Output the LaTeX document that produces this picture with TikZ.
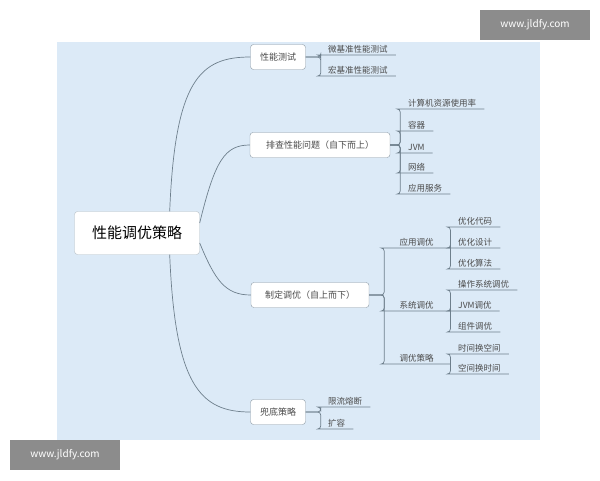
\documentclass[tikz,border=0pt]{standalone}
\usepackage{fontspec}
\setmainfont{Noto Sans CJK SC}
\usetikzlibrary{positioning}
\definecolor{bgblue}{HTML}{DCEAF7}
\definecolor{ln}{HTML}{6E7F8C}
\definecolor{tx}{HTML}{4A4A4A}
\tikzset{
    x=1pt,y=-1pt,
    root/.style={draw=ln!50,fill=white,rounded corners=3pt,minimum width=125pt,minimum height=43pt,font=\fontsize{15}{15}\selectfont,text=black},
    topic/.style={draw=ln!80,fill=white,rounded corners=3pt,minimum height=25pt,font=\fontsize{9}{9}\selectfont,text=tx},
    leaf/.style={anchor=south west,inner xsep=8pt,inner ysep=2pt,font=\fontsize{8.5}{8.5}\selectfont,text=tx},
    br/.style={draw=ln,line width=0.7pt,rounded corners=3pt},
    watermark/.style={fill=black!45,minimum width=110pt,minimum height=30pt,text=white,font=\fontsize{10}{10}\selectfont}
}
\begin{document}
\begin{tikzpicture}
	\useasboundingbox (0,0) rectangle (600,480);
	\fill[bgblue] (57,42) rectangle (540,440);

	\node[root] (r) at (137,233) {性能调优策略};
	\node[topic,minimum width=55pt] (t1) at (278,57) {性能测试};
	\node[topic,minimum width=140pt] (t2) at (320,145) {排查性能问题（自下而上）};
	\node[topic,minimum width=118pt] (t3) at (310,295) {制定调优（自上而下）};
	\node[topic,minimum width=55pt] (t4) at (278,412) {兜底策略};

	\draw[br,rounded corners=0pt] (r.north east) ++(-30,0) coordinate (ra) .. controls (175,80) and (200,57) .. (t1.west);
	\draw[br,rounded corners=0pt] (r.east) ++(0,-10) .. controls (215,160) and (225,145) .. (t2.west);
	\draw[br,rounded corners=0pt] (r.east) ++(0,10) .. controls (215,280) and (225,295) .. (t3.west);
	\draw[br,rounded corners=0pt] (r.south east) ++(-30,0) .. controls (175,385) and (200,412) .. (t4.west);

	% performance tests
	\node[leaf] (t1a) at (320,55) {微基准性能测试};
	\node[leaf] (t1b) at (320,76) {宏基准性能测试};
	\foreach \c in {t1a,t1b}
	    \draw[br] (t1.east) -- ++(15,0) |- (\c.south west) -- (\c.south east);

	% troubleshooting
	\node[leaf] (t2a) at (400,109) {计算机资源使用率};
	\node[leaf] (t2b) at (400,131) {容器};
	\node[leaf] (t2c) at (400,153) {JVM};
	\node[leaf] (t2d) at (400,173) {网络};
	\node[leaf] (t2e) at (400,194) {应用服务};
	\foreach \c in {t2a,t2b,t2c,t2d,t2e}
	    \draw[br] (t2.east) -- ++(10,0) |- (\c.south west) -- (\c.south east);

	% tuning, second level
	\node[leaf,minimum width=67pt] (s1) at (383,248) {应用调优};
	\node[leaf,minimum width=67pt] (s2) at (383,311) {系统调优};
	\node[leaf,minimum width=67pt] (s3) at (383,364) {调优策略};
	\foreach \c in {s1,s2,s3}
	    \draw[br] (t3.east) -- ++(15,0) |- (\c.south west) -- (\c.south east);

	% tuning, third level
	\node[leaf] (s1a) at (450,227) {优化代码};
	\node[leaf] (s1b) at (450,248) {优化设计};
	\node[leaf] (s1c) at (450,269) {优化算法};
	\foreach \c in {s1a,s1b,s1c}
	    \draw[br] (s1.south east) |- (\c.south west) -- (\c.south east);
	\node[leaf] (s2a) at (450,290) {操作系统调优};
	\node[leaf] (s2b) at (450,311) {JVM调优};
	\node[leaf] (s2c) at (450,332) {组件调优};
	\foreach \c in {s2a,s2b,s2c}
	    \draw[br] (s2.south east) |- (\c.south west) -- (\c.south east);
	\node[leaf] (s3a) at (450,354) {时间换空间};
	\node[leaf] (s3b) at (450,374) {空间换时间};
	\foreach \c in {s3a,s3b}
	    \draw[br] (s3.south east) |- (\c.south west) -- (\c.south east);

	% fallback
	\node[leaf] (t4a) at (320,407) {限流熔断};
	\node[leaf] (t4b) at (320,429) {扩容};
	\foreach \c in {t4a,t4b}
	    \draw[br] (t4.east) -- ++(15,0) |- (\c.south west) -- (\c.south east);

	\node[watermark] (w1) at (535,25) {www.jldfy.com};
	\node[watermark] (w2) at (65,455) {www.jldfy.com};
\end{tikzpicture}
\end{document}
